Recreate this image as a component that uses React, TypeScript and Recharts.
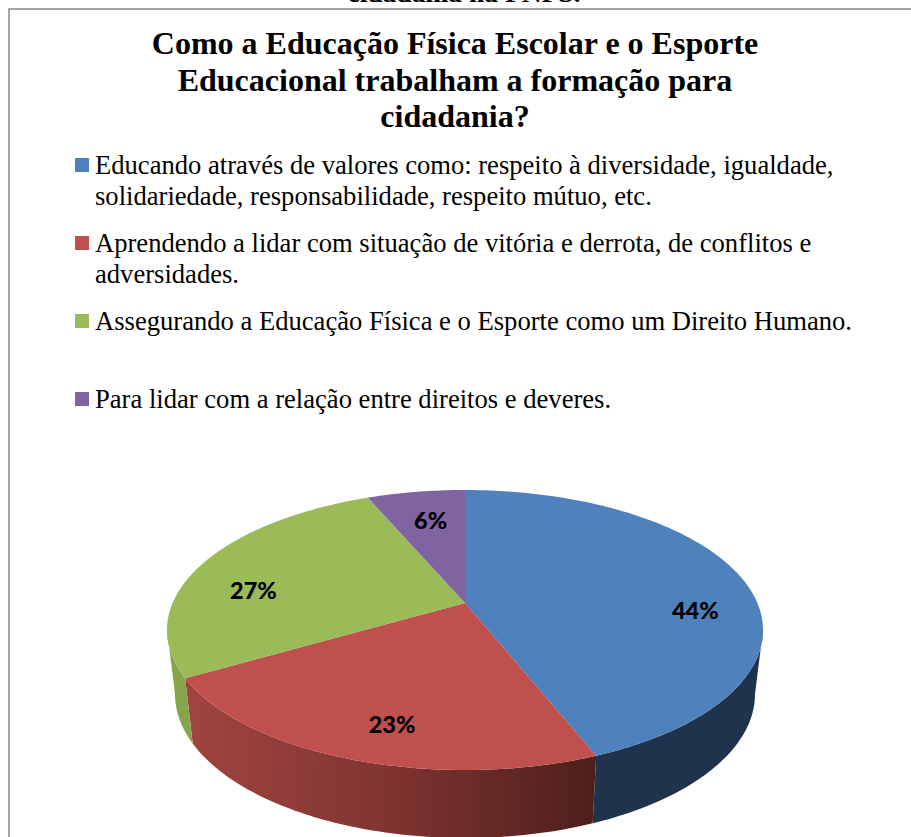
import React from "react";
import { PieChart, Pie, Cell, Legend } from "recharts";

const categories = [
  "Educando através de valores como: respeito à diversidade, igualdade, solidariedade, responsabilidade, respeito mútuo, etc.",
  "Aprendendo a lidar com situação de vitória e derrota, de conflitos e adversidades.",
  "Assegurando a Educação Física e o Esporte como um Direito Humano.",
  "Para lidar com a relação entre direitos e deveres.",
];
const shares = [44, 22.6, 27, 6.4];
const topColors = ["#4f81bd", "#c0504d", "#9bbb59", "#8064a2"];
const wallColors = ["#1f334d", "url(#redWall)", "#86a44a", "#5d4a78"];
const titleLines = [
  "Como a Educação Física Escolar e o Esporte",
  "Educacional trabalham a formação para",
  "cidadania?",
];
const cutCaption = "cidadania na PNPS.";
const labelNudgeX = [2, 3, 9, 12];
const labelNudgeY = [2, -7, -4, -1];

const rows = categories.map((name, i) => ({ name, share: shares[i] }));

const W = 911;
const H = 837;
const CX = 465;
const CY = 630;
const RX = 298;
const TILT = 0.193;
const SCALE_Y = 140 / 298;
const BOTTOM_RATIO = 290 / 298;
const BOTTOM_DY = 64;
const BOTTOM_RY_RATIO = 144 / 298;

type Pt = [number, number];

// Projects a point of the flat disk (unit radius, recharts' degrees) onto the tilted ellipse.
function project(deg: number, r: number, cx: number, cy: number, rx: number, ry: number): Pt {
  const a = (deg * Math.PI) / 180;
  const u = r * Math.cos(a);
  const v = r * Math.sin(a);
  const den = 1 + TILT * v;
  return [cx + (rx * u * Math.sqrt(1 - TILT * TILT)) / den, cy - (ry * (v + TILT)) / den];
}

function arcPoints(from: number, to: number, cx: number, cy: number, rx: number, ry: number): Pt[] {
  const n = Math.max(2, Math.ceil(Math.abs(to - from)));
  const out: Pt[] = [];
  for (let i = 0; i <= n; i++) out.push(project(from + ((to - from) * i) / n, 1, cx, cy, rx, ry));
  return out;
}

const toPath = (pts: Pt[]) => "M" + pts.map((p) => `${p[0].toFixed(2)},${p[1].toFixed(2)}`).join("L") + "Z";

function Slice(props: any) {
  const { cx, cy, outerRadius, startAngle, endAngle, fill, index } = props;
  const ry = outerRadius * SCALE_Y;
  const hi = Math.max(startAngle, endAngle);
  const lo = Math.min(startAngle, endAngle);
  const top = arcPoints(hi, lo, cx, cy, outerRadius, ry);
  const face = [project(0, 0, cx, cy, outerRadius, ry), ...top];

  // The front of the rim runs from the left tangent round the bottom to the right tangent.
  const tangent = (Math.asin(TILT) * 180) / Math.PI;
  const frontFrom = -180 + tangent;
  const frontTo = -tangent;
  let wall: React.ReactNode = null;
  for (const shift of [0, -360]) {
    const a = Math.max(lo + shift, frontFrom);
    const b = Math.min(hi + shift, frontTo);
    if (b > a) {
      const up = arcPoints(a, b, cx, cy, outerRadius, ry);
      const down = arcPoints(
        b,
        a,
        cx,
        cy + BOTTOM_DY,
        outerRadius * BOTTOM_RATIO,
        outerRadius * BOTTOM_RY_RATIO,
      );
      wall = <path d={toPath([...up, ...down])} fill={wallColors[index]} />;
    }
  }
  return (
    <g>
      {wall}
      <path d={toPath(face)} fill={fill} />
    </g>
  );
}

function SliceLabel(props: any) {
  const { cx, cy, outerRadius, midAngle, value, index } = props;
  const a = (midAngle * Math.PI) / 180;
  const x = cx + labelNudgeX[index] + 0.78 * outerRadius * Math.cos(a);
  const y = cy - 2 + labelNudgeY[index] - 0.78 * outerRadius * SCALE_Y * Math.sin(a);
  return (
    <text x={x} y={y} textAnchor="middle" dominantBaseline="central" fontFamily="Lato" fontWeight={900} fontSize={23.5} fill="#000">
      {`${Math.round(value)}%`}
    </text>
  );
}

function LegendBox() {
  return (
    <div style={{ width: 790 }}>
      {rows.map((r, i) => (
        <div key={r.name} style={{ position: "relative", height: 78, paddingLeft: 20, boxSizing: "border-box" }}>
          <span style={{ position: "absolute", left: 0, top: 7, width: 14, height: 14, background: topColors[i] }} />
          <div style={{ fontFamily: "Liberation Serif", fontSize: 26.6, lineHeight: "31px", color: "#000", width: 770, textAlign: "left", position: "relative", top: -1.5 }}>
            {r.name}
          </div>
        </div>
      ))}
    </div>
  );
}

export default function App() {
  return (
    <div style={{ position: "absolute", left: 0, top: 0, width: W, height: H, overflow: "hidden", background: "#fff" }}>
      <PieChart width={W} height={H} margin={{ top: 0, right: 0, bottom: 0, left: 0 }}>
        <defs>
          <linearGradient id="redWall" gradientUnits="userSpaceOnUse" x1={185} y1={0} x2={595} y2={0}>
            <stop offset="0" stopColor="#a1443f" />
            <stop offset="0.5" stopColor="#7f3431" />
            <stop offset="1" stopColor="#4d1f1c" />
          </linearGradient>
        </defs>
        <rect x={9} y={9} width={W + 20} height={H + 20} fill="none" stroke="#868686" strokeWidth={1.5} />
        <text x={464} y={2} textAnchor="middle" fontFamily="Liberation Serif" fontWeight={700} fontSize={27.5}>
          {cutCaption}
        </text>
        {titleLines.map((line, i) => (
          <text key={line} x={455} y={54 + i * 36.5} textAnchor="middle" fontFamily="Liberation Serif" fontWeight={700} fontSize={32} fill="#000">
            {line}
          </text>
        ))}
        <Legend content={<LegendBox />} wrapperStyle={{ left: 75, top: 151, width: 790, bottom: "auto" }} />
        <Pie
          data={rows}
          dataKey="share"
          nameKey="name"
          cx={CX}
          cy={CY}
          innerRadius={0}
          outerRadius={RX}
          startAngle={90}
          endAngle={-270}
          isAnimationActive={false}
          stroke="none"
          shape={Slice}
          label={SliceLabel}
          labelLine={false}
        >
          {rows.map((r, i) => (
            <Cell key={r.name} fill={topColors[i]} />
          ))}
        </Pie>
      </PieChart>
    </div>
  );
}
